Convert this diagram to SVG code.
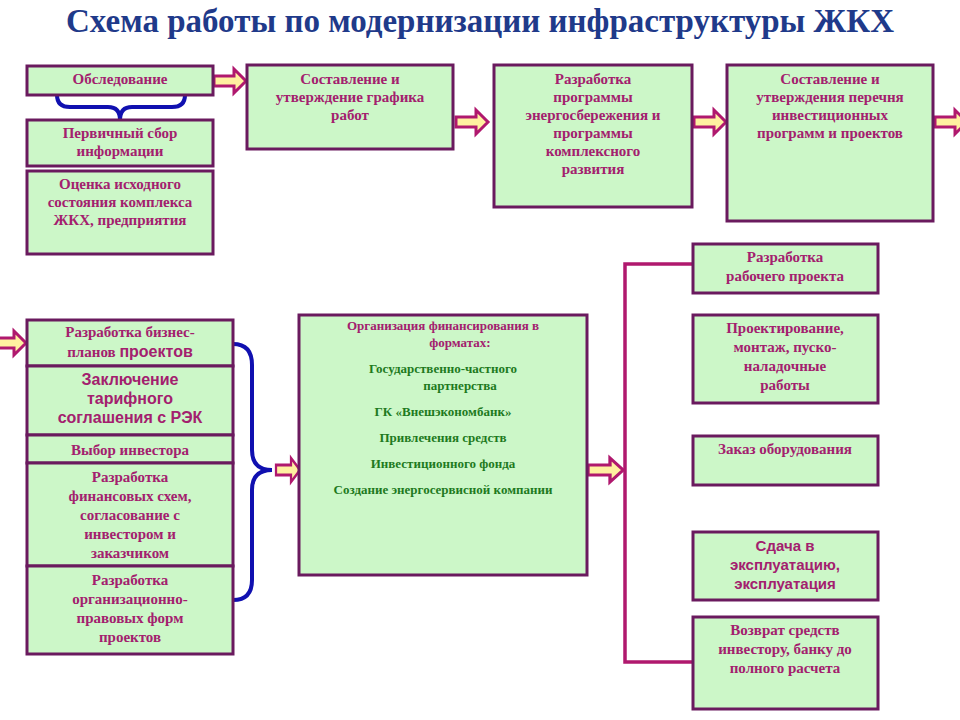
<svg xmlns="http://www.w3.org/2000/svg" width="960" height="720" viewBox="0 0 960 720">
<defs>
<style>
.b{fill:#ccf7c8;stroke:#6a1a5e;stroke-width:3}
.t{font-family:"Liberation Serif","Times New Roman","DejaVu Serif",serif;font-weight:bold;fill:#a3206e;text-anchor:middle;font-size:15px}
.s{font-family:"Liberation Sans",Arial,sans-serif;font-weight:bold;fill:#a3206e;text-anchor:middle;font-size:16px}
.g{font-family:"Liberation Serif","Times New Roman","DejaVu Serif",serif;font-weight:bold;fill:#1e7a1e;text-anchor:middle;font-size:13px}
.p{fill:#a3206e}
.ttl{font-family:"Liberation Serif","Times New Roman","DejaVu Serif",serif;font-weight:bold;font-size:33px;fill:#1f3a8a;text-anchor:middle}
.ar{fill:#fff0a0;stroke:#b0186e;stroke-width:3;stroke-linejoin:miter}
.br{fill:none;stroke:#1010b0;stroke-width:4}
.mg{fill:none;stroke:#b0186e;stroke-width:3.5}
</style>
<path id="arr" d="M0,-5 H20 V-12 L32,0 L20,12 V5 H0 Z"/>
</defs>
<text class="ttl" x="480" y="32">Схема работы по модернизации инфраструктуры ЖКХ</text>
<g id="connectors">
<use href="#arr" class="ar" transform="translate(214,81)"/>
<use href="#arr" class="ar" transform="translate(456,122)"/>
<use href="#arr" class="ar" transform="translate(694,122)"/>
<use href="#arr" class="ar" transform="translate(935,122)"/>
<use href="#arr" class="ar" transform="translate(-6,343)"/>
<use href="#arr" class="ar" transform="translate(276,470) scale(0.75,1)"/>
<use href="#arr" class="ar" transform="translate(588,470) scale(1.1,1)"/>
<path class="br" d="M57,95 Q57,107 70,107 H108 Q120,107 120,120 Q120,107 132,107 H172 Q185,107 185,95"/>
<path class="br" d="M233,344 Q252,344 252,365 V450 Q252,470 272,470 Q252,470 252,490 V580 Q252,600 233,600"/>
<path class="mg" d="M693,264 H625 V662 H693"/>
</g>
<g id="n1"><rect class="b" x="27" y="66" width="186" height="29"/><text class="t" x="120" y="84">Обследование</text></g>
<g id="n2"><rect class="b" x="27" y="120" width="186" height="46"/><text class="t" x="120" y="138">Первичный  сбор</text><text class="t" x="120" y="156">информации</text></g>
<g id="n3"><rect class="b" x="27" y="171" width="186" height="83"/><text class="t" x="120" y="189">Оценка исходного</text><text class="t" x="120" y="207">состояния комплекса</text><text class="t" x="120" y="225">ЖКХ, предприятия</text></g>
<g id="n4"><rect class="b" x="247" y="65" width="206" height="84"/><text class="t" x="350" y="84">Составление и</text><text class="t" x="350" y="102">утверждение графика</text><text class="t" x="350" y="120">работ</text></g>
<g id="n5"><rect class="b" x="494" y="65" width="198" height="142"/><text class="t" x="593" y="84">Разработка</text><text class="t" x="593" y="102">программы</text><text class="t" x="593" y="120">энергосбережения и</text><text class="t" x="593" y="138">программы</text><text class="t" x="593" y="156">комплексного</text><text class="t" x="593" y="174">развития</text></g>
<g id="n6"><rect class="b" x="727" y="65" width="206" height="156"/><text class="t" x="830" y="84">Составление и</text><text class="t" x="830" y="102">утверждения перечня</text><text class="t" x="830" y="120">инвестиционных</text><text class="t" x="830" y="138">программ и проектов</text></g>
<g id="n7"><rect class="b" x="27" y="320" width="206" height="46"/><text class="t" x="130" y="337">Разработка бизнес-</text><text class="t" x="130" y="357">планов <tspan font-family="Liberation Sans,Arial,sans-serif" font-size="16">проектов</tspan></text></g>
<g id="n8"><rect class="b" x="27" y="366" width="206" height="69"/><text class="s" x="130" y="385">Заключение</text><text class="s" x="130" y="404">тарифного</text><text class="s" x="130" y="423">соглашения с РЭК</text></g>
<g id="n9"><rect class="b" x="27" y="435" width="206" height="28"/><text class="t" x="130" y="455">Выбор инвестора</text></g>
<g id="n10"><rect class="b" x="27" y="463" width="206" height="103"/><text class="t" x="130" y="482">Разработка</text><text class="t" x="130" y="501">финансовых схем,</text><text class="t" x="130" y="520">согласование с</text><text class="t" x="130" y="539">инвестором и</text><text class="t" x="130" y="558">заказчиком</text></g>
<g id="n11"><rect class="b" x="27" y="566" width="206" height="88"/><text class="t" x="130" y="585">Разработка</text><text class="t" x="130" y="604">организационно-</text><text class="t" x="130" y="623">правовых форм</text><text class="t" x="130" y="642">проектов</text></g>
<g id="n12"><rect class="b" x="299" y="315" width="288" height="260"/><text class="g p" x="443" y="330">Организация финансирования в</text><text class="g p" x="460" y="347">форматах:</text><text class="g" x="443" y="373">Государственно-частного</text><text class="g" x="460" y="390">партнерства</text><text class="g" x="443" y="416">ГК «Внешэкономбанк»</text><text class="g" x="443" y="442">Привлечения средств</text><text class="g" x="443" y="468">Инвестиционного фонда</text><text class="g" x="443" y="494">Создание энергосервисной компании</text></g>
<g id="n13"><rect class="b" x="693" y="244" width="185" height="49"/><text class="t" x="785" y="262">Разработка</text><text class="t" x="785" y="281">рабочего проекта</text></g>
<g id="n14"><rect class="b" x="693" y="315" width="185" height="88"/><text class="t" x="785" y="333">Проектирование,</text><text class="t" x="785" y="352">монтаж, пуско-</text><text class="t" x="785" y="371">наладочные</text><text class="t" x="785" y="390">работы</text></g>
<g id="n15"><rect class="b" x="693" y="436" width="185" height="49"/><text class="t" x="785" y="454">Заказ оборудования</text></g>
<g id="n16"><rect class="b" x="693" y="532" width="185" height="68"/><text class="s" x="785" y="551" style="font-size:15px">Сдача в</text><text class="s" x="785" y="570" style="font-size:15px">эксплуатацию,</text><text class="s" x="785" y="589" style="font-size:15px">эксплуатация</text></g>
<g id="n17"><rect class="b" x="693" y="617" width="185" height="92"/><text class="t" x="785" y="635">Возврат средств</text><text class="t" x="785" y="654">инвестору, банку до</text><text class="t" x="785" y="673">полного расчета</text></g>
</svg>
